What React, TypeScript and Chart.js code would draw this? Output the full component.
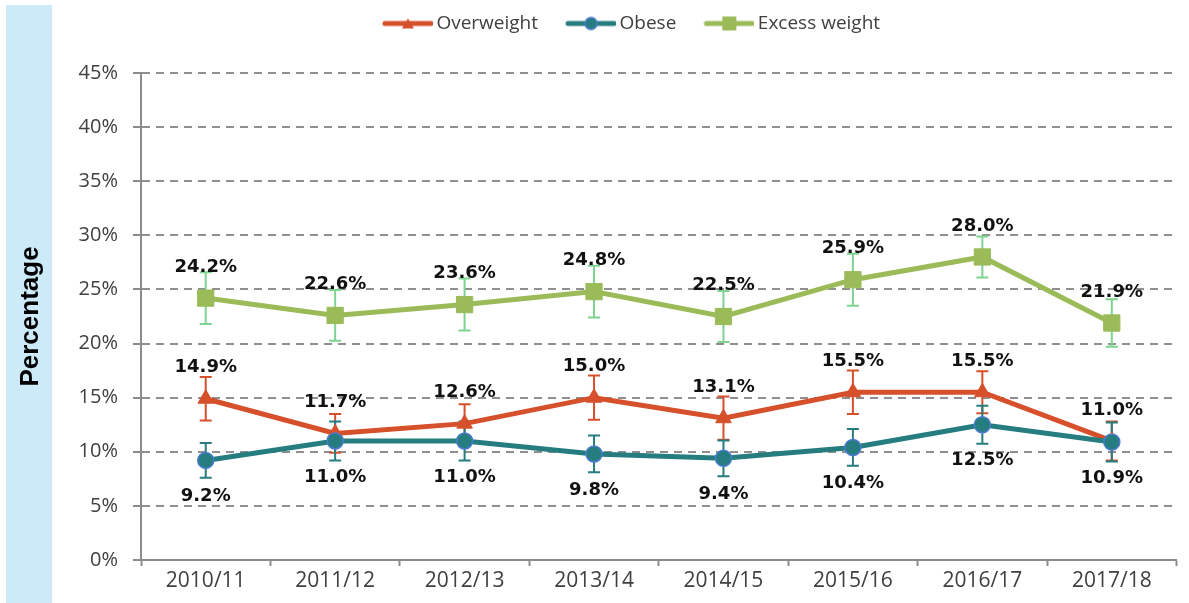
import React, { useEffect, useRef } from 'react';
import { Chart, registerables } from 'chart.js';

Chart.register(...registerables);

const categories = ['2010/11', '2011/12', '2012/13', '2013/14', '2014/15', '2015/16', '2016/17', '2017/18'];
const overweight = [14.9, 11.7, 12.6, 15.0, 13.1, 15.5, 15.5, 11.0];
const obese = [9.2, 11.0, 11.0, 9.8, 9.4, 10.4, 12.5, 10.9];
const excessWeight = [24.2, 22.6, 23.6, 24.8, 22.5, 25.9, 28.0, 21.9];
const overweightErr = [2.0, 1.8, 1.8, 2.05, 2.0, 2.0, 1.95, 1.8];
const obeseErr = [1.6, 1.8, 1.8, 1.7, 1.65, 1.7, 1.75, 1.8];
const excessErr = [2.4, 2.35, 2.4, 2.4, 2.35, 2.4, 1.9, 2.2];
const yMin = 0;
const yMax = 45;
const yStep = 5;

const RED = '#D6502C';
const TEAL = '#267D80';
const BLUE = '#4A7BD0';
const GREEN = '#9BBB59';

function makeLegendImage(color: string, marker: 'triangle' | 'circle' | 'rect') {
  const c = document.createElement('canvas');
  c.width = 74;
  c.height = 18;
  const g = c.getContext('2d')!;
  g.strokeStyle = color;
  g.lineWidth = 5;
  g.lineCap = 'round';
  g.beginPath();
  g.moveTo(26, 9);
  g.lineTo(72, 9);
  g.stroke();
  const cx = 49;
  const cy = 9;
  g.fillStyle = color;
  if (marker === 'triangle') {
    g.beginPath();
    g.moveTo(cx, cy - 5);
    g.lineTo(cx + 6, cy + 5);
    g.lineTo(cx - 6, cy + 5);
    g.closePath();
    g.fill();
  } else if (marker === 'circle') {
    g.beginPath();
    g.arc(cx, cy, 6, 0, Math.PI * 2);
    g.fill();
    g.strokeStyle = BLUE;
    g.lineWidth = 1.5;
    g.stroke();
  } else {
    g.fillRect(cx - 7, cy - 7, 14, 14);
  }
  return c;
}

const errorBarPlugin = {
  id: 'errorBars',
  beforeDatasetsDraw(chart: any) {
    const ctx = chart.ctx;
    const y = chart.scales.y;
    chart.data.datasets.forEach((ds: any, i: number) => {
      const meta = chart.getDatasetMeta(i);
      ctx.save();
      ctx.strokeStyle = ds.errorColor;
      ctx.lineWidth = 2;
      meta.data.forEach((pt: any, j: number) => {
        const v = ds.data[j];
        const e = ds.errors[j];
        const yt = y.getPixelForValue(v + e);
        const yb = y.getPixelForValue(v - e);
        const x = pt.x;
        ctx.beginPath();
        ctx.moveTo(x, yt);
        ctx.lineTo(x, yb);
        ctx.moveTo(x - 6, yt);
        ctx.lineTo(x + 6, yt);
        ctx.moveTo(x - 6, yb);
        ctx.lineTo(x + 6, yb);
        ctx.stroke();
      });
      ctx.restore();
    });
  },
};

const dataLabelPlugin = {
  id: 'pointLabels',
  afterDatasetsDraw(chart: any) {
    const ctx = chart.ctx;
    ctx.save();
    ctx.font = 'bold 18px "DejaVu Sans"';
    ctx.fillStyle = '#111';
    ctx.textAlign = 'center';
    ctx.textBaseline = 'middle';
    chart.data.datasets.forEach((ds: any, i: number) => {
      const meta = chart.getDatasetMeta(i);
      meta.data.forEach((pt: any, j: number) => {
        const v = ds.data[j];
        const dy = ds.labelBelow ? 36 : -31;
        ctx.fillText(v.toFixed(1) + '%', pt.x, pt.y + dy);
      });
    });
    ctx.restore();
  },
};

const legendLayoutPlugin = {
  id: 'legendLayout',
  beforeInit(chart: any) {
    const legend = chart.legend;
    if (!legend) return;
    const fit = legend.fit;
    legend.fit = function () {
      fit.call(legend);
      legend.height = 69;
    };
  },
  afterLayout(chart: any) {
    const legend = chart.legend;
    if (!legend) return;
    legend.left += 30;
    legend.right += 30;
  },
};

export default function App() {
  const ref = useRef<HTMLCanvasElement | null>(null);

  useEffect(() => {
    document.body.style.margin = '0';
    const canvas = ref.current;
    if (!canvas) return;
    const imgs = [
      makeLegendImage(RED, 'triangle'),
      makeLegendImage(TEAL, 'circle'),
      makeLegendImage(GREEN, 'rect'),
    ];
    const chart = new Chart(canvas, {
      type: 'line',
      data: {
        labels: categories,
        datasets: [
          {
            label: 'Overweight',
            data: overweight,
            borderColor: RED,
            backgroundColor: RED,
            borderWidth: 5,
            pointStyle: 'triangle',
            pointRadius: 9,
            pointBackgroundColor: RED,
            pointBorderColor: RED,
            pointBorderWidth: 1,
            tension: 0,
            order: 2,
            errors: overweightErr,
            errorColor: RED,
            labelBelow: false,
          } as any,
          {
            label: 'Obese',
            data: obese,
            borderColor: TEAL,
            backgroundColor: TEAL,
            borderWidth: 5,
            pointStyle: 'circle',
            pointRadius: 8,
            pointBackgroundColor: TEAL,
            pointBorderColor: BLUE,
            pointBorderWidth: 1.5,
            tension: 0,
            order: 1,
            errors: obeseErr,
            errorColor: TEAL,
            labelBelow: true,
          } as any,
          {
            label: 'Excess weight',
            data: excessWeight,
            borderColor: GREEN,
            backgroundColor: GREEN,
            borderWidth: 5,
            pointStyle: 'rect',
            pointRadius: 11.5,
            pointBackgroundColor: GREEN,
            pointBorderColor: GREEN,
            pointBorderWidth: 1,
            tension: 0,
            order: 3,
            errors: excessErr,
            errorColor: '#7DD490',
            labelBelow: false,
          } as any,
        ],
      },
      options: {
        responsive: false,
        animation: false,
        layout: { padding: { top: 4, left: 0, right: 4, bottom: 0 } },
        plugins: {
          tooltip: { enabled: false },
          legend: {
            position: 'top',
            labels: {
              usePointStyle: true,
              pointStyleWidth: 62,
              padding: 10,
              color: '#404040',
              font: { family: '"Open Sans"', size: 19 },
              sort: (a: any, b: any) => a.datasetIndex - b.datasetIndex,
              generateLabels: (ch: any) =>
                ch.data.datasets.map((ds: any, i: number) => ({
                  text: ds.label,
                  datasetIndex: i,
                  pointStyle: imgs[i],
                  fillStyle: ds.borderColor,
                  strokeStyle: ds.borderColor,
                  lineWidth: 0,
                  fontColor: '#404040',
                  hidden: false,
                })),
            },
          },
        },
        scales: {
          x: {
            type: 'category',
            offset: true,
            afterFit: (s: any) => {
              s.height = 43;
            },
            grid: {
              display: true,
              offset: true,
              drawOnChartArea: false,
              drawTicks: true,
              tickLength: 6,
              tickColor: '#8C8C8C',
              tickWidth: 2,
            },
            border: { display: true, color: '#8C8C8C', width: 2 },
            ticks: {
              color: '#404040',
              font: { family: '"Open Sans"', size: 21 },
              padding: 2,
              maxRotation: 0,
            },
          },
          y: {
            min: yMin,
            max: yMax,
            afterFit: (s: any) => {
              s.width = 141;
            },
            ticks: {
              stepSize: yStep,
              color: '#404040',
              font: { family: '"Open Sans"', size: 20 },
              padding: 15,
              callback: (v: any) => v + '%',
            },
            grid: {
              color: (c: any) => (c.tick && c.tick.value === 0 ? 'rgba(0,0,0,0)' : '#8F8F8F'),
              lineWidth: 2,
              drawTicks: true,
              tickLength: 8,
              tickColor: '#8C8C8C',
              tickWidth: 2,
            },
            border: { display: true, color: '#8C8C8C', width: 2, dash: [8, 6] },
            title: {
              display: true,
              text: 'Percentage',
              color: '#000',
              font: { family: '"Liberation Sans"', size: 26, weight: 'bold' },
              padding: { top: 15, bottom: 0 },
            },
          },
        },
      },
      plugins: [errorBarPlugin, dataLabelPlugin, legendLayoutPlugin],
    });
    return () => chart.destroy();
  }, []);

  return (
    <div style={{ position: 'relative', width: 1189, height: 603, background: '#fff' }}>
      <div
        style={{
          position: 'absolute',
          left: 6,
          top: 5,
          width: 46,
          height: 598,
          background: '#CCEAF7',
        }}
      />
      <canvas
        ref={ref}
        width={1189}
        height={603}
        style={{ position: 'absolute', left: 0, top: 0, width: 1189, height: 603 }}
      />
    </div>
  );
}
